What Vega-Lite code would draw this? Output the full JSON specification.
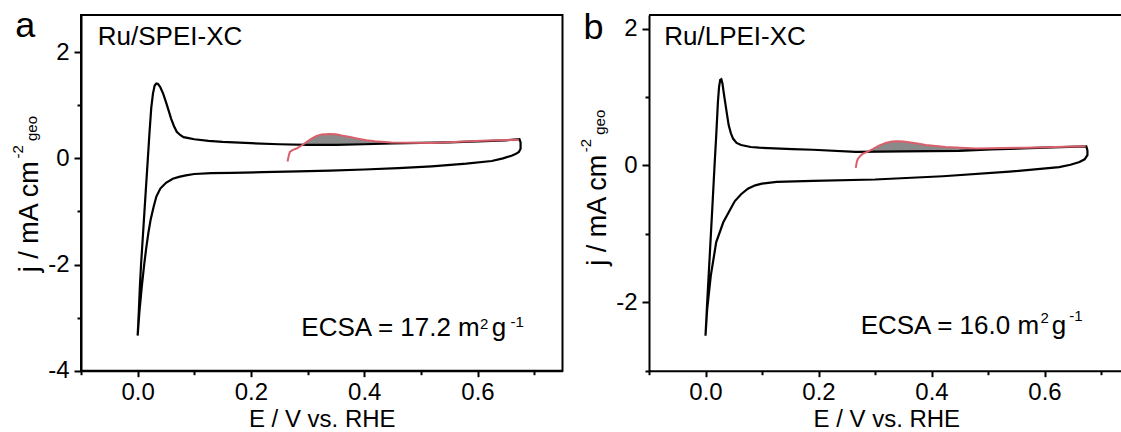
{
  "$schema": "https://vega.github.io/schema/vega-lite/v6.json",
  "padding": {"left": 10, "top": 6, "right": 0, "bottom": 0},
  "bounds": "flush",
  "spacing": 86,
  "config": {
    "font": "Liberation Sans",
    "view": {"stroke": "black", "strokeWidth": 2},
    "axis": {"labelFont": "Liberation Sans", "labelFontSize": 24, "labelColor": "black", "titleFont": "Liberation Sans", "titleFontSize": 24, "titleFontWeight": "normal", "titleColor": "black", "domainColor": "black", "domainWidth": 2, "tickColor": "black", "tickWidth": 2, "grid": false, "labelOverlap": false, "labelFlush": false},
    "text": {"font": "Liberation Sans", "color": "black"}
  },
  "datasets": {
    "cvA": [
      {"i":1,"E":0,"j":-3.34},{"i":2,"E":0.002,"j":-2.9},{"i":3,"E":0.004,"j":-2.4},{"i":4,"E":0.006,"j":-2.0},{"i":5,"E":0.009,"j":-1.5},{"i":6,"E":0.012,"j":-1.0},{"i":7,"E":0.015,"j":-0.5},{"i":8,"E":0.018,"j":0.0},{"i":9,"E":0.021,"j":0.5},{"i":10,"E":0.024,"j":0.95},{"i":11,"E":0.027,"j":1.22},{"i":12,"E":0.030,"j":1.37},{"i":13,"E":0.033,"j":1.41},{"i":14,"E":0.036,"j":1.40},{"i":15,"E":0.040,"j":1.34},{"i":16,"E":0.045,"j":1.22},{"i":17,"E":0.050,"j":1.06},{"i":18,"E":0.055,"j":0.89},{"i":19,"E":0.059,"j":0.75},{"i":20,"E":0.064,"j":0.61},{"i":21,"E":0.069,"j":0.50},{"i":22,"E":0.075,"j":0.44},{"i":23,"E":0.081,"j":0.40},{"i":24,"E":0.090,"j":0.38},{"i":25,"E":0.100,"j":0.36},{"i":26,"E":0.125,"j":0.33},{"i":27,"E":0.150,"j":0.31},{"i":28,"E":0.200,"j":0.285},{"i":29,"E":0.250,"j":0.265},{"i":30,"E":0.300,"j":0.255},{"i":31,"E":0.350,"j":0.255},{"i":32,"E":0.400,"j":0.265},{"i":33,"E":0.450,"j":0.28},{"i":34,"E":0.500,"j":0.29},{"i":35,"E":0.550,"j":0.30},{"i":36,"E":0.600,"j":0.32},{"i":37,"E":0.650,"j":0.34},{"i":38,"E":0.674,"j":0.36},{"i":39,"E":0.676,"j":0.30},{"i":40,"E":0.676,"j":0.18},{"i":41,"E":0.673,"j":0.12},{"i":42,"E":0.667,"j":0.08},{"i":43,"E":0.660,"j":0.05},{"i":44,"E":0.645,"j":0.0},{"i":45,"E":0.625,"j":-0.05},{"i":46,"E":0.580,"j":-0.10},{"i":47,"E":0.519,"j":-0.15},{"i":48,"E":0.460,"j":-0.185},{"i":49,"E":0.400,"j":-0.21},{"i":50,"E":0.340,"j":-0.23},{"i":51,"E":0.283,"j":-0.245},{"i":52,"E":0.220,"j":-0.26},{"i":53,"E":0.166,"j":-0.275},{"i":54,"E":0.130,"j":-0.28},{"i":55,"E":0.100,"j":-0.295},{"i":56,"E":0.085,"j":-0.32},{"i":57,"E":0.073,"j":-0.35},{"i":58,"E":0.062,"j":-0.385},{"i":59,"E":0.050,"j":-0.46},{"i":60,"E":0.040,"j":-0.57},{"i":61,"E":0.033,"j":-0.72},{"i":62,"E":0.028,"j":-0.92},{"i":63,"E":0.023,"j":-1.15},{"i":64,"E":0.019,"j":-1.40},{"i":65,"E":0.015,"j":-1.70},{"i":66,"E":0.011,"j":-2.05},{"i":67,"E":0.007,"j":-2.45},{"i":68,"E":0.003,"j":-2.90},{"i":69,"E":0,"j":-3.34}
    ],
    "redA": [
      {"E":0.2646,"j":-0.06},{"E":0.2667,"j":0.05},{"E":0.2687,"j":0.12},{"E":0.274,"j":0.16},{"E":0.2805,"j":0.185},{"E":0.286,"j":0.22},{"E":0.292,"j":0.26},{"E":0.300,"j":0.32},{"E":0.307,"j":0.37},{"E":0.316,"j":0.42},{"E":0.325,"j":0.45},{"E":0.339,"j":0.46},{"E":0.350,"j":0.455},{"E":0.360,"j":0.43},{"E":0.375,"j":0.40},{"E":0.389,"j":0.37},{"E":0.404,"j":0.34},{"E":0.419,"j":0.32},{"E":0.448,"j":0.30},{"E":0.519,"j":0.29},{"E":0.607,"j":0.33},{"E":0.673,"j":0.35}
    ],
    "areaA": [
      {"E":0.290,"hi":0.256,"lo":0.256},{"E":0.300,"hi":0.32,"lo":0.255},{"E":0.307,"hi":0.37,"lo":0.255},{"E":0.316,"hi":0.42,"lo":0.255},{"E":0.325,"hi":0.45,"lo":0.255},{"E":0.339,"hi":0.46,"lo":0.255},{"E":0.350,"hi":0.455,"lo":0.255},{"E":0.360,"hi":0.43,"lo":0.257},{"E":0.375,"hi":0.40,"lo":0.259},{"E":0.389,"hi":0.37,"lo":0.262},{"E":0.404,"hi":0.34,"lo":0.266},{"E":0.419,"hi":0.32,"lo":0.27},{"E":0.448,"hi":0.30,"lo":0.28},{"E":0.500,"hi":0.29,"lo":0.29}
    ],
    "cvB": [
      {"i":1,"E":0,"j":-2.49},{"i":2,"E":0.003,"j":-2.0},{"i":3,"E":0.0075,"j":-1.32},{"i":4,"E":0.0126,"j":-0.54},{"i":5,"E":0.0157,"j":-0.05},{"i":6,"E":0.019,"j":0.44},{"i":7,"E":0.022,"j":0.93},{"i":8,"E":0.024,"j":1.15},{"i":9,"E":0.026,"j":1.25},{"i":10,"E":0.028,"j":1.26},{"i":11,"E":0.030,"j":1.20},{"i":12,"E":0.032,"j":1.08},{"i":13,"E":0.0347,"j":0.93},{"i":14,"E":0.038,"j":0.75},{"i":15,"E":0.041,"j":0.59},{"i":16,"E":0.045,"j":0.47},{"i":17,"E":0.049,"j":0.39},{"i":18,"E":0.055,"j":0.33},{"i":19,"E":0.063,"j":0.30},{"i":20,"E":0.080,"j":0.27},{"i":21,"E":0.095,"j":0.26},{"i":22,"E":0.154,"j":0.24},{"i":23,"E":0.190,"j":0.23},{"i":24,"E":0.266,"j":0.20},{"i":25,"E":0.350,"j":0.205},{"i":26,"E":0.449,"j":0.215},{"i":27,"E":0.506,"j":0.235},{"i":28,"E":0.600,"j":0.26},{"i":29,"E":0.674,"j":0.28},{"i":30,"E":0.676,"j":0.22},{"i":31,"E":0.676,"j":0.15},{"i":32,"E":0.671,"j":0.09},{"i":33,"E":0.662,"j":0.05},{"i":34,"E":0.646,"j":0.01},{"i":35,"E":0.626,"j":-0.025},{"i":36,"E":0.538,"j":-0.09},{"i":37,"E":0.420,"j":-0.157},{"i":38,"E":0.300,"j":-0.205},{"i":39,"E":0.190,"j":-0.225},{"i":40,"E":0.126,"j":-0.24},{"i":41,"E":0.100,"j":-0.265},{"i":42,"E":0.088,"j":-0.29},{"i":43,"E":0.075,"j":-0.34},{"i":44,"E":0.063,"j":-0.42},{"i":45,"E":0.052,"j":-0.52},{"i":46,"E":0.044,"j":-0.64},{"i":47,"E":0.0315,"j":-0.83},{"i":48,"E":0.019,"j":-1.12},{"i":49,"E":0.0094,"j":-1.61},{"i":50,"E":0.003,"j":-2.1},{"i":51,"E":0,"j":-2.49}
    ],
    "redB": [
      {"E":0.266,"j":-0.035},{"E":0.268,"j":0.06},{"E":0.270,"j":0.10},{"E":0.274,"j":0.14},{"E":0.278,"j":0.17},{"E":0.286,"j":0.20},{"E":0.296,"j":0.24},{"E":0.307,"j":0.29},{"E":0.319,"j":0.33},{"E":0.330,"j":0.35},{"E":0.340,"j":0.355},{"E":0.350,"j":0.35},{"E":0.360,"j":0.34},{"E":0.375,"j":0.32},{"E":0.390,"j":0.30},{"E":0.425,"j":0.27},{"E":0.479,"j":0.25},{"E":0.567,"j":0.26},{"E":0.673,"j":0.28}
    ],
    "areaB": [
      {"E":0.286,"hi":0.20,"lo":0.20},{"E":0.296,"hi":0.24,"lo":0.201},{"E":0.307,"hi":0.29,"lo":0.202},{"E":0.319,"hi":0.33,"lo":0.202},{"E":0.330,"hi":0.35,"lo":0.203},{"E":0.340,"hi":0.355,"lo":0.204},{"E":0.350,"hi":0.35,"lo":0.205},{"E":0.360,"hi":0.34,"lo":0.206},{"E":0.375,"hi":0.32,"lo":0.207},{"E":0.390,"hi":0.30,"lo":0.208},{"E":0.425,"hi":0.27,"lo":0.211},{"E":0.479,"hi":0.25,"lo":0.22},{"E":0.500,"hi":0.235,"lo":0.232}
    ]
  },
  "hconcat": [
    {
      "width": 481.5,
      "height": 355.7,
      "resolve": {"axis": {"x": "independent", "y": "independent"}},
      "layer": [
        {
          "data": {"name": "areaA"},
          "mark": {"type": "area", "color": "#8a8a8a", "opacity": 1},
          "encoding": {
            "x": {"field": "E", "type": "quantitative", "scale": {"domain": [-0.1, 0.75], "nice": false, "zero": false}, "axis": null},
            "y": {"field": "hi", "type": "quantitative", "scale": {"domain": [-4, 2.7], "nice": false, "zero": false}, "axis": null},
            "y2": {"field": "lo"}
          }
        },
        {
          "data": {"name": "cvA"},
          "mark": {"type": "line", "color": "black", "strokeWidth": 2.2},
          "encoding": {
            "x": {"field": "E", "type": "quantitative", "scale": {"domain": [-0.1, 0.75], "nice": false, "zero": false}, "axis": {"orient": "bottom", "values": [0, 0.2, 0.4, 0.6], "format": ".1f", "title": "E / V vs. RHE", "tickSize": 6, "labelPadding": 4, "titlePadding": 3}},
            "y": {"field": "j", "type": "quantitative", "scale": {"domain": [-4, 2.7], "nice": false, "zero": false}, "axis": {"orient": "left", "values": [-4, -2, 0, 2], "title": null, "tickSize": 7, "labelPadding": 5, "labelExpr": "datum.value < 0 ? '-' + format(-datum.value, 'd') : format(datum.value, 'd')"}},
            "order": {"field": "i", "type": "quantitative"}
          }
        },
        {
          "data": {"name": "redA"},
          "mark": {"type": "line", "color": "#d9606a", "strokeWidth": 2},
          "encoding": {
            "x": {"field": "E", "type": "quantitative", "scale": {"domain": [-0.1, 0.75], "nice": false, "zero": false}, "axis": {"orient": "bottom", "values": [-0.1, 0.1, 0.3, 0.5, 0.7], "labels": false, "tickSize": 4, "title": null, "domain": false}},
            "y": {"field": "j", "type": "quantitative", "scale": {"domain": [-4, 2.7], "nice": false, "zero": false}, "axis": {"orient": "left", "values": [-3, -1, 1], "labels": false, "tickSize": 4, "title": null, "domain": false}}
          }
        },
        {
          "data": {"values": [{"t": "a", "E": -0.2163, "j": 2.289}]},
          "mark": {"type": "text", "fontSize": 36, "align": "left", "baseline": "alphabetic"},
          "encoding": {
            "x": {"field": "E", "type": "quantitative", "scale": {"domain": [-0.1, 0.75], "nice": false, "zero": false}, "axis": null},
            "y": {"field": "j", "type": "quantitative", "scale": {"domain": [-4, 2.7], "nice": false, "zero": false}, "axis": null},
            "text": {"field": "t"}
          }
        },
        {
          "data": {"values": [{"t": "Ru/SPEI-XC", "E": -0.0703, "j": 2.13}, {"t": "g", "E": 0.6252, "j": -3.34}]},
          "mark": {"type": "text", "fontSize": 26, "align": "left", "baseline": "alphabetic"},
          "encoding": {
            "x": {"field": "E", "type": "quantitative", "scale": {"domain": [-0.1, 0.75], "nice": false, "zero": false}, "axis": null},
            "y": {"field": "j", "type": "quantitative", "scale": {"domain": [-4, 2.7], "nice": false, "zero": false}, "axis": null},
            "text": {"field": "t"}
          }
        },
        {
          "data": {"values": [{"t": "ECSA = 17.2 m", "E": 0.6039, "j": -3.34}]},
          "mark": {"type": "text", "fontSize": 26, "align": "right", "baseline": "alphabetic"},
          "encoding": {
            "x": {"field": "E", "type": "quantitative", "scale": {"domain": [-0.1, 0.75], "nice": false, "zero": false}, "axis": null},
            "y": {"field": "j", "type": "quantitative", "scale": {"domain": [-4, 2.7], "nice": false, "zero": false}, "axis": null},
            "text": {"field": "t"}
          }
        },
        {
          "data": {"values": [{"t": "2", "E": 0.6045, "j": -3.215}, {"t": "-1", "E": 0.658, "j": -3.18}]},
          "mark": {"type": "text", "fontSize": 15, "align": "left", "baseline": "alphabetic"},
          "encoding": {
            "x": {"field": "E", "type": "quantitative", "scale": {"domain": [-0.1, 0.75], "nice": false, "zero": false}, "axis": null},
            "y": {"field": "j", "type": "quantitative", "scale": {"domain": [-4, 2.7], "nice": false, "zero": false}, "axis": null},
            "text": {"field": "t"}
          }
        },
        {
          "data": {"values": [{"t": "j / mA cm", "E": -0.1755, "j": -2.145}]},
          "mark": {"type": "text", "fontSize": 27, "angle": 270, "align": "left", "baseline": "alphabetic"},
          "encoding": {
            "x": {"field": "E", "type": "quantitative", "scale": {"domain": [-0.1, 0.75], "nice": false, "zero": false}, "axis": null},
            "y": {"field": "j", "type": "quantitative", "scale": {"domain": [-4, 2.7], "nice": false, "zero": false}, "axis": null},
            "text": {"field": "t"}
          }
        },
        {
          "data": {"values": [{"t": "-2", "E": -0.202, "j": -0.004}, {"t": "geo", "E": -0.1776, "j": 0.326}]},
          "mark": {"type": "text", "fontSize": 15, "angle": 270, "align": "left", "baseline": "alphabetic"},
          "encoding": {
            "x": {"field": "E", "type": "quantitative", "scale": {"domain": [-0.1, 0.75], "nice": false, "zero": false}, "axis": null},
            "y": {"field": "j", "type": "quantitative", "scale": {"domain": [-4, 2.7], "nice": false, "zero": false}, "axis": null},
            "text": {"field": "t"}
          }
        }
      ]
    },
    {
      "width": 474.6,
      "height": 355.7,
      "view": {"stroke": null},
      "resolve": {"axis": {"x": "independent", "y": "independent"}},
      "layer": [
        {
          "data": {"name": "areaB"},
          "mark": {"type": "area", "color": "#8a8a8a", "opacity": 1},
          "encoding": {
            "x": {"field": "E", "type": "quantitative", "scale": {"domain": [-0.1, 0.74], "nice": false, "zero": false}, "axis": null},
            "y": {"field": "hi", "type": "quantitative", "scale": {"domain": [-3, 2.2], "nice": false, "zero": false}, "axis": null},
            "y2": {"field": "lo"}
          }
        },
        {
          "data": {"values": [{"E1": -0.1, "E2": 0.74, "j": 2.2}]},
          "mark": {"type": "rule", "color": "black", "strokeWidth": 2},
          "encoding": {
            "x": {"field": "E1", "type": "quantitative", "scale": {"domain": [-0.1, 0.74], "nice": false, "zero": false}, "axis": null},
            "x2": {"field": "E2"},
            "y": {"field": "j", "type": "quantitative", "scale": {"domain": [-3, 2.2], "nice": false, "zero": false}, "axis": null}
          }
        },
        {
          "data": {"name": "cvB"},
          "mark": {"type": "line", "color": "black", "strokeWidth": 2.2},
          "encoding": {
            "x": {"field": "E", "type": "quantitative", "scale": {"domain": [-0.1, 0.74], "nice": false, "zero": false}, "axis": {"orient": "bottom", "values": [0, 0.2, 0.4, 0.6], "format": ".1f", "title": "E / V vs. RHE", "tickSize": 6, "labelPadding": 4, "titlePadding": 3}},
            "y": {"field": "j", "type": "quantitative", "scale": {"domain": [-3, 2.2], "nice": false, "zero": false}, "axis": {"orient": "left", "values": [-2, 0, 2], "title": null, "tickSize": 7, "labelPadding": 5, "labelExpr": "datum.value < 0 ? '-' + format(-datum.value, 'd') : format(datum.value, 'd')"}},
            "order": {"field": "i", "type": "quantitative"}
          }
        },
        {
          "data": {"name": "redB"},
          "mark": {"type": "line", "color": "#d9606a", "strokeWidth": 2},
          "encoding": {
            "x": {"field": "E", "type": "quantitative", "scale": {"domain": [-0.1, 0.74], "nice": false, "zero": false}, "axis": {"orient": "bottom", "values": [-0.1, 0.1, 0.3, 0.5, 0.7], "labels": false, "tickSize": 4, "title": null, "domain": false}},
            "y": {"field": "j", "type": "quantitative", "scale": {"domain": [-3, 2.2], "nice": false, "zero": false}, "axis": {"orient": "left", "values": [-3, -1, 1], "labels": false, "tickSize": 4, "title": null, "domain": false}}
          }
        },
        {
          "data": {"values": [{"t": "b", "E": -0.2158, "j": 1.856}]},
          "mark": {"type": "text", "fontSize": 36, "align": "left", "baseline": "alphabetic"},
          "encoding": {
            "x": {"field": "E", "type": "quantitative", "scale": {"domain": [-0.1, 0.74], "nice": false, "zero": false}, "axis": null},
            "y": {"field": "j", "type": "quantitative", "scale": {"domain": [-3, 2.2], "nice": false, "zero": false}, "axis": null},
            "text": {"field": "t"}
          }
        },
        {
          "data": {"values": [{"t": "Ru/LPEI-XC", "E": -0.073, "j": 1.76}, {"t": "g", "E": 0.6129, "j": -2.47}]},
          "mark": {"type": "text", "fontSize": 26, "align": "left", "baseline": "alphabetic"},
          "encoding": {
            "x": {"field": "E", "type": "quantitative", "scale": {"domain": [-0.1, 0.74], "nice": false, "zero": false}, "axis": null},
            "y": {"field": "j", "type": "quantitative", "scale": {"domain": [-3, 2.2], "nice": false, "zero": false}, "axis": null},
            "text": {"field": "t"}
          }
        },
        {
          "data": {"values": [{"t": "ECSA = 16.0 m", "E": 0.5904, "j": -2.47}]},
          "mark": {"type": "text", "fontSize": 26, "align": "right", "baseline": "alphabetic"},
          "encoding": {
            "x": {"field": "E", "type": "quantitative", "scale": {"domain": [-0.1, 0.74], "nice": false, "zero": false}, "axis": null},
            "y": {"field": "j", "type": "quantitative", "scale": {"domain": [-3, 2.2], "nice": false, "zero": false}, "axis": null},
            "text": {"field": "t"}
          }
        },
        {
          "data": {"values": [{"t": "2", "E": 0.593, "j": -2.30}, {"t": "-1", "E": 0.644, "j": -2.27}]},
          "mark": {"type": "text", "fontSize": 15, "align": "left", "baseline": "alphabetic"},
          "encoding": {
            "x": {"field": "E", "type": "quantitative", "scale": {"domain": [-0.1, 0.74], "nice": false, "zero": false}, "axis": null},
            "y": {"field": "j", "type": "quantitative", "scale": {"domain": [-3, 2.2], "nice": false, "zero": false}, "axis": null},
            "text": {"field": "t"}
          }
        },
        {
          "data": {"values": [{"t": "j / mA cm", "E": -0.1754, "j": -1.466}]},
          "mark": {"type": "text", "fontSize": 27, "angle": 270, "align": "left", "baseline": "alphabetic"},
          "encoding": {
            "x": {"field": "E", "type": "quantitative", "scale": {"domain": [-0.1, 0.74], "nice": false, "zero": false}, "axis": null},
            "y": {"field": "j", "type": "quantitative", "scale": {"domain": [-3, 2.2], "nice": false, "zero": false}, "axis": null},
            "text": {"field": "t"}
          }
        },
        {
          "data": {"values": [{"t": "-2", "E": -0.202, "j": 0.195}, {"t": "geo", "E": -0.1775, "j": 0.449}]},
          "mark": {"type": "text", "fontSize": 15, "angle": 270, "align": "left", "baseline": "alphabetic"},
          "encoding": {
            "x": {"field": "E", "type": "quantitative", "scale": {"domain": [-0.1, 0.74], "nice": false, "zero": false}, "axis": null},
            "y": {"field": "j", "type": "quantitative", "scale": {"domain": [-3, 2.2], "nice": false, "zero": false}, "axis": null},
            "text": {"field": "t"}
          }
        }
      ]
    }
  ]
}
